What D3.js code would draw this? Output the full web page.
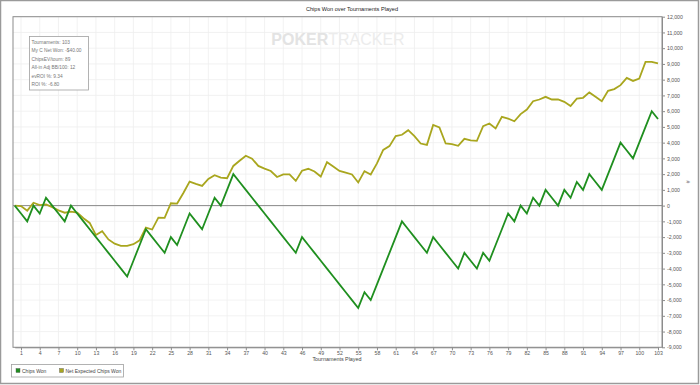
<!DOCTYPE html>
<html>
<head>
<meta charset="utf-8">
<script src="https://cdn.jsdelivr.net/npm/d3@7"></script>
<style>
  body { margin: 0; background: #fff; }
  svg text { font-family: "Liberation Sans", Arial, sans-serif; }
</style>
</head>
<body>
<div id="chart"></div>
<script>
// tournaments 0..103, cumulative values
var tournaments = d3.range(0, 104);

var chipsWon = [0, -500, -1000, 0, -500, 500, 0, -500, -1000, 0,
  -500, -1000, -1500, -2000, -2500, -3000, -3500, -4000, -4500, -3500,
  -2500, -1500, -2000, -2500, -3000, -2000, -2500, -1500, -500, -1000,
  -1500, -500, 500, 0, 1000, 2000, 1500, 1000, 500, 0,
  -500, -1000, -1500, -2000, -2500, -3000, -2000, -2500, -3000, -3500,
  -4000, -4500, -5000, -5500, -6000, -6500, -5500, -6000, -5000, -4000,
  -3000, -2000, -1000, -1500, -2000, -2500, -3000, -2000, -2500, -3000,
  -3500, -4000, -3000, -3500, -4000, -3000, -3500, -2500, -1500, -500,
  -1000, 0, -500, 500, 0, 1000, 500, 0, 1000, 500,
  1500, 1000, 2000, 1500, 1000, 2000, 3000, 4000, 3500, 3000,
  4000, 5000, 6000, 5500];

var netExpected = [0, -30, -320, 180, 30, 70, -100, -300, -450, -380,
  -450, -800, -1100, -1870, -1620, -2150, -2420, -2560, -2560, -2450,
  -2200, -1400, -1520, -760, -780, 150, 130, 800, 1520, 1380,
  1250, 1700, 1930, 1780, 1740, 2520, 2850, 3170, 2980, 2520,
  2350, 2200, 1820, 1980, 1980, 1570, 2220, 2340, 2170, 1850,
  2760, 2490, 2200, 2100, 1980, 1470, 2190, 1980, 2680, 3540,
  3780, 4420, 4500, 4790, 4410, 3945, 3860, 5120, 4960, 3945,
  3900, 3800, 4240, 4150, 4110, 5040, 5220, 4900, 5640, 5530,
  5360, 5810, 6100, 6630, 6740, 6910, 6740, 6740, 6590, 6330,
  6800, 6850, 7190, 6910, 6630, 7290, 7400, 7650, 8110, 7920,
  8070, 9130, 9130, 9030];

var xTicks = d3.range(1, 104, 3);
var yTicks = d3.range(-9000, 12001, 1000);

var seriesNames = ["Chips Won", "Net Expected Chips Won"];
var seriesColors = ["#1f8f1f", "#a9a61e"];

var statLines = ["Tournaments: 103", "My C Net Won: -$40.00", "ChipsEV/tourn: 89",
  "All-in Adj BB/100: 12", "evROI %: 9.34", "ROI %: -6.80"];

function makeChart(){
  var W = 700, H = 385;
  var left = 13, right = 662, top = 16.7, bottom = 347.3;

  var svg = d3.select("#chart").append("svg")
      .attr("width", W)
      .attr("height", H);

  // outer frame
  svg.append("rect")
      .attr("x", 0.5).attr("y", 0.5)
      .attr("width", W - 2).attr("height", H - 2)
      .attr("fill", "#fff")
      .attr("stroke", "#9a9a9a")
      .attr("stroke-width", 1.5);

  var x = d3.scaleLinear().domain([0, 103]).range([14.75, 658]);
  var y = d3.scaleLinear().domain([-9000, 12000]).range([bottom, top]);

  svg.append("text")
      .attr("x", 352).attr("y", 11)
      .attr("text-anchor", "middle")
      .attr("font-size", 5.6)
      .attr("fill", "#222")
      .text("Chips Won over Tournaments Played");

  // grid
  var grid = svg.append("g");
  grid.selectAll("line.v")
      .data(xTicks)
    .enter().append("line")
      .attr("x1", function(d){ return x(d); })
      .attr("x2", function(d){ return x(d); })
      .attr("y1", top).attr("y2", bottom)
      .attr("stroke", "#efefef")
      .attr("stroke-width", 0.8);
  grid.selectAll("line.h")
      .data(yTicks)
    .enter().append("line")
      .attr("x1", left).attr("x2", right)
      .attr("y1", function(d){ return y(d); })
      .attr("y2", function(d){ return y(d); })
      .attr("stroke", "#efefef")
      .attr("stroke-width", 0.8);

  // watermark
  var wm = svg.append("text")
      .attr("x", 338).attr("y", 45)
      .attr("text-anchor", "middle")
      .attr("font-size", 16)
      .attr("font-family", "Lato, sans-serif");
  wm.append("tspan").attr("font-weight", "bold").attr("fill", "#e3e3e3").text("POKER");
  wm.append("tspan").attr("font-weight", "normal").attr("fill", "#ececec").text("TRACKER");

  // plot frame
  svg.append("rect")
      .attr("x", left).attr("y", top)
      .attr("width", right - left).attr("height", bottom - top)
      .attr("fill", "none")
      .attr("stroke", "#8c8c8c")
      .attr("stroke-width", 1);

  // zero line
  svg.append("line")
      .attr("x1", left).attr("x2", right)
      .attr("y1", y(0)).attr("y2", y(0))
      .attr("stroke", "#8a8a8a")
      .attr("stroke-width", 1);

  // stats box
  svg.append("rect")
      .attr("x", 29.5).attr("y", 36.5)
      .attr("width", 59).attr("height", 53.5)
      .attr("fill", "#fff")
      .attr("stroke", "#a0a0a0")
      .attr("stroke-width", 0.8);
  svg.selectAll("text.stat")
      .data(statLines)
    .enter().append("text")
      .attr("class", "stat")
      .attr("x", 31.5)
      .attr("y", function(d, i){ return 44 + i*8.4; })
      .attr("font-size", 4.8)
      .attr("fill", "#777")
      .text(function(d){ return d; });

  // lines
  var line = d3.line()
      .x(function(d){ return x(d[0]); })
      .y(function(d){ return y(d[1]); });

  var series = [d3.zip(tournaments, chipsWon), d3.zip(tournaments, netExpected)];
  svg.selectAll("path.series")
      .data([series[1], series[0]])
    .enter().append("path")
      .attr("class", "series")
      .attr("d", function(d){ return line(d); })
      .attr("fill", "none")
      .attr("stroke", function(d, i){ return i == 0 ? seriesColors[1] : seriesColors[0]; })
      .attr("stroke-width", 1.8)
      .attr("stroke-linejoin", "miter");

  // axes
  var xAxis = d3.axisBottom(x).tickValues(xTicks).tickSize(3).tickSizeOuter(0);
  var yAxis = d3.axisRight(y).tickValues(yTicks).tickSize(3).tickSizeOuter(0)
      .tickFormat(function(d){ return d3.format(",")(d).replace("−", "-"); });

  var gx = svg.append("g")
      .attr("transform", "translate(0," + bottom + ")")
      .call(xAxis);
  var gy = svg.append("g")
      .attr("transform", "translate(" + right + ",0)")
      .call(yAxis);
  [gx, gy].forEach(function(g){
    g.select(".domain").attr("stroke", "#8c8c8c");
    g.selectAll(".tick line").attr("stroke", "#8c8c8c");
    g.selectAll("text").attr("font-size", 5.2).attr("fill", "#555")
      .attr("font-family", "Liberation Sans, Arial, sans-serif");
  });
  gx.selectAll("text").attr("dy", "0.9em").attr("y", 3);
  gy.selectAll("text").attr("x", 5);

  svg.append("text")
      .attr("x", 337).attr("y", 361)
      .attr("text-anchor", "middle")
      .attr("font-size", 5.4)
      .attr("fill", "#444")
      .text("Tournaments Played");

  svg.append("text")
      .attr("transform", "translate(686,182) rotate(90)")
      .attr("text-anchor", "middle")
      .attr("font-size", 5)
      .attr("fill", "#444")
      .text("#");

  // legend
  var lg = svg.append("g");
  lg.append("rect")
      .attr("x", 11.5).attr("y", 364.5)
      .attr("width", 112).attr("height", 12.5)
      .attr("fill", "#fff")
      .attr("stroke", "#a0a0a0")
      .attr("stroke-width", 0.8);
  var legX = [16, 59.5];
  seriesNames.forEach(function(name, i){
    lg.append("rect")
        .attr("x", legX[i]).attr("y", 368.5)
        .attr("width", 4).attr("height", 4)
        .attr("fill", seriesColors[i])
        .attr("stroke", "#555")
        .attr("stroke-width", 0.4);
    lg.append("text")
        .attr("x", legX[i] + 6).attr("y", 372.5)
        .attr("font-size", 5)
        .attr("fill", "#444")
        .text(name);
  });
}

makeChart();
</script>
</body>
</html>
